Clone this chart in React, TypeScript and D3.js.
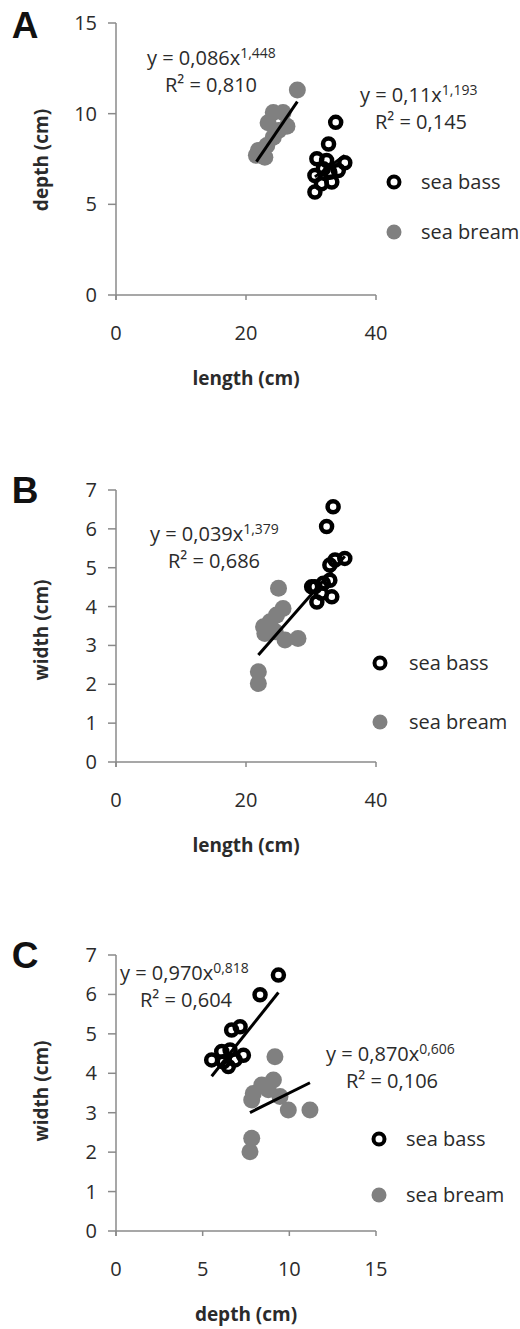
import React from 'react';
import * as d3 from 'd3';

// ---------- tick labels ----------
const lengthTicks = [0, 20, 40];
const depthTicksA = [0, 5, 10, 15];
const widthTicks = [0, 1, 2, 3, 4, 5, 6, 7];
const depthTicksC = [0, 5, 10, 15];

// ---------- Panel A: depth vs length ----------
const aBassLength = [33.8, 32.7, 30.9, 32.4, 35.2, 31.9, 30.6, 32.9, 34.2, 31.6, 33.2, 30.6];
const aBassDepth = [9.52, 8.33, 7.51, 7.42, 7.29, 6.96, 6.59, 6.77, 6.87, 6.14, 6.23, 5.68];
const aBreamLength = [27.9, 24.2, 23.4, 25.7, 26.3, 25.0, 24.2, 23.2, 21.9, 21.6, 22.9];
const aBreamDepth = [11.3, 10.07, 9.5, 10.07, 9.3, 9.07, 8.7, 8.24, 7.97, 7.7, 7.6];

// ---------- Panel B: width vs length ----------
const bBassLength = [33.4, 32.4, 35.2, 33.7, 32.9, 30.6, 31.9, 32.9, 33.2, 30.9, 30.1, 31.6];
const bBassWidth = [6.57, 6.06, 5.24, 5.2, 5.07, 4.51, 4.6, 4.68, 4.25, 4.12, 4.51, 4.34];
const bBreamLength = [25.0, 25.7, 24.7, 23.7, 22.7, 22.9, 26.0, 28.0, 24.5, 21.9, 21.9];
const bBreamWidth = [4.47, 3.95, 3.78, 3.61, 3.48, 3.31, 3.14, 3.18, 3.35, 2.32, 2.02];

// ---------- Panel C: width vs depth ----------
const cBassDepth = [9.37, 8.31, 7.16, 6.67, 7.35, 6.58, 6.1, 5.52, 6.48, 6.87, 6.19];
const cBassWidth = [6.49, 5.99, 5.18, 5.1, 4.46, 4.59, 4.55, 4.34, 4.17, 4.34, 4.29];
const cBreamDepth = [9.17, 9.08, 8.41, 7.92, 7.83, 9.46, 9.94, 11.19, 8.79, 7.83, 7.73];
const cBreamWidth = [4.42, 3.83, 3.7, 3.49, 3.32, 3.41, 3.07, 3.07, 3.58, 2.35, 2.01];

// ---------- power trend lines: [a, b] in y = a·x^b ----------
const aBreamFit = [0.086, 1.448];
const aBassFit = [0.11, 1.193];
const bAllFit = [0.039, 1.379];
const cBassFit = [0.97, 0.818];
const cBreamFit = [0.87, 0.606];

const legendLabels = ['sea bass', 'sea bream'];

const FONT = "'Open Sans', sans-serif";
const TEXT = '#2b2b2b';
const AXIS = '#8a8a8a';
const GRAY = '#808080';

type Pt = [number, number];
const zip = (xs: number[], ys: number[]): Pt[] => xs.map((x, i) => [x, ys[i]]);

interface Eq { a: string; p: string; r: string; x: number; y: number; rx: number }

interface PanelProps {
  letter: string;
  top: number; bottom: number;
  xDomain: [number, number]; xTicks: number[];
  yDomain: [number, number]; yTicks: number[];
  xTitle: string; yTitle: string; yTitleY: number;
  bass: Pt[]; bream: Pt[];
  fits: { fit: number[]; pts: Pt[] }[];
  eqs: Eq[];
  legend: { x: number; y1: number; y2: number; tx: number };
  letterY: number;
}

const Panel: React.FC<PanelProps> = (p) => {
  const x = d3.scaleLinear().domain(p.xDomain).range([116, 376]);
  const y = d3.scaleLinear().domain(p.yDomain).range([p.bottom, p.top]);
  const line = d3.line<Pt>().x((d) => x(d[0])).y((d) => y(d[1]));
  return (
    <g>
      <text x={25} y={p.letterY} fontFamily="'Liberation Sans', Arial, sans-serif" fontWeight="bold"
        fontSize={37} textAnchor="middle" fill="#111">{p.letter}</text>
      {/* axes */}
      <line x1={116} x2={116} y1={p.top} y2={p.bottom + 5} stroke={AXIS} strokeWidth={1.5} />
      <line x1={116} x2={376} y1={p.bottom} y2={p.bottom} stroke={AXIS} strokeWidth={1.5} />
      {p.yTicks.map((t) => (
        <g key={'y' + t}>
          <line x1={108} x2={116} y1={y(t)} y2={y(t)} stroke={AXIS} strokeWidth={1.5} />
          <text x={97} y={y(t)} dy="0.35em" textAnchor="end" fontFamily={FONT} fontSize={20} fill={TEXT}>{t}</text>
        </g>
      ))}
      {p.xTicks.map((t) => (
        <g key={'x' + t}>
          <line x1={x(t)} x2={x(t)} y1={p.bottom} y2={p.bottom + 5} stroke={AXIS} strokeWidth={1.5} />
          <text x={x(t)} y={p.bottom + 38} dy="0.35em" textAnchor="middle" fontFamily={FONT} fontSize={20} fill={TEXT}>{t}</text>
        </g>
      ))}
      <text x={246} y={p.bottom + 83} dy="0.35em" textAnchor="middle" fontFamily={FONT} fontWeight="bold"
        fontSize={19} fill={TEXT}>{p.xTitle}</text>
      <text transform={`translate(41,${p.yTitleY}) rotate(-90)`} dy="0.35em" textAnchor="middle" fontFamily={FONT}
        fontWeight="bold" fontSize={19} fill={TEXT}>{p.yTitle}</text>
      {/* markers */}
      {p.bream.map((d, i) => (
        <circle key={'br' + i} cx={x(d[0])} cy={y(d[1])} r={8.5} fill={GRAY} />
      ))}
      {p.bass.map((d, i) => (
        <circle key={'bs' + i} cx={x(d[0])} cy={y(d[1])} r={5.5} fill="none" stroke="#000" strokeWidth={4.5} />
      ))}
      {/* trend lines */}
      {p.fits.map((f, i) => {
        const ext = d3.extent(f.pts, (d) => d[0]) as [number, number];
        const pts: Pt[] = ext.map((v) => [v, f.fit[0] * Math.pow(v, f.fit[1])] as Pt);
        return <path key={'f' + i} d={line(pts) || ''} stroke="#000" strokeWidth={3} fill="none" />;
      })}
      {/* equations */}
      {p.eqs.map((e, i) => (
        <g key={'e' + i} fontFamily={FONT} fill={TEXT}>
          <text x={e.x} y={e.y} dy="0.35em" fontSize={20}>
            {e.a}
            <tspan fontSize={14} dy="-0.5em">{e.p}</tspan>
          </text>
          <text x={e.rx} y={e.y + 27} dy="0.35em" fontSize={20}>{e.r}</text>
        </g>
      ))}
      {/* legend */}
      <circle cx={p.legend.x} cy={p.legend.y1} r={5.5} fill="none" stroke="#000" strokeWidth={4} />
      <circle cx={p.legend.x} cy={p.legend.y2} r={7.5} fill={GRAY} />
      <text x={p.legend.tx} y={p.legend.y1} dy="0.35em" fontFamily={FONT} fontSize={20} fill={TEXT}>{legendLabels[0]}</text>
      <text x={p.legend.tx} y={p.legend.y2} dy="0.35em" fontFamily={FONT} fontSize={20} fill={TEXT}>{legendLabels[1]}</text>
    </g>
  );
};

export default function App() {
  const aBass = zip(aBassLength, aBassDepth);
  const aBream = zip(aBreamLength, aBreamDepth);
  const bBass = zip(bBassLength, bBassWidth);
  const bBream = zip(bBreamLength, bBreamWidth);
  const cBass = zip(cBassDepth, cBassWidth);
  const cBream = zip(cBreamDepth, cBreamWidth);
  return (
    <svg width={520} height={1329} style={{ position: 'absolute', left: 0, top: 0, background: '#fff' }}>
      <rect width={520} height={1329} fill="#fff" />
      <Panel letter="A" letterY={38} top={23} bottom={295}
        xDomain={[0, 40]} xTicks={lengthTicks} yDomain={[0, 15]} yTicks={depthTicksA}
        xTitle="length (cm)" yTitle="depth (cm)" yTitleY={160}
        bass={aBass} bream={aBream}
        fits={[{ fit: aBreamFit, pts: aBream }, { fit: aBassFit, pts: aBass }]}
        eqs={[
          { a: 'y = 0,086x', p: '1,448', r: 'R² = 0,810', x: 147, y: 58, rx: 165 },
          { a: 'y = 0,11x', p: '1,193', r: 'R² = 0,145', x: 360, y: 95, rx: 375 },
        ]}
        legend={{ x: 394, y1: 182, y2: 232, tx: 421 }} />
      <Panel letter="B" letterY={503} top={490} bottom={762}
        xDomain={[0, 40]} xTicks={lengthTicks} yDomain={[0, 7]} yTicks={widthTicks}
        xTitle="length (cm)" yTitle="width (cm)" yTitleY={630}
        bass={bBass} bream={bBream}
        fits={[{ fit: bAllFit, pts: [...bBass, ...bBream] }]}
        eqs={[{ a: 'y = 0,039x', p: '1,379', r: 'R² = 0,686', x: 150, y: 534, rx: 168 }]}
        legend={{ x: 380, y1: 663, y2: 722, tx: 409 }} />
      <Panel letter="C" letterY={968} top={955} bottom={1231}
        xDomain={[0, 15]} xTicks={depthTicksC} yDomain={[0, 7]} yTicks={widthTicks}
        xTitle="depth (cm)" yTitle="width (cm)" yTitleY={1091}
        bass={cBass} bream={cBream}
        fits={[{ fit: cBassFit, pts: cBass }, { fit: cBreamFit, pts: cBream }]}
        eqs={[
          { a: 'y = 0,970x', p: '0,818', r: 'R² = 0,604', x: 120, y: 973, rx: 140 },
          { a: 'y = 0,870x', p: '0,606', r: 'R² = 0,106', x: 326, y: 1054, rx: 346 },
        ]}
        legend={{ x: 379, y1: 1139, y2: 1195, tx: 406 }} />
    </svg>
  );
}
